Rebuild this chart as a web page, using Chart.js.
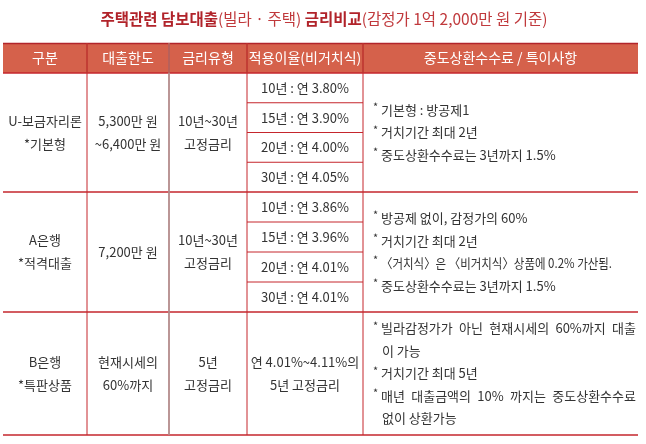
<!DOCTYPE html>
<html>
<head>
<meta charset="utf-8">
<script src="https://cdn.jsdelivr.net/npm/chart.js@4.4.1/dist/chart.umd.min.js"></script>
<style>
  html, body { margin: 0; padding: 0; background: #fff; }
  #loanTable { display: block; }
</style>
</head>
<body>
<canvas id="loanTable" width="646" height="444"></canvas>
<script>
// Table content
const TITLE_PARTS = [
    { text: "주택관련 담보대출", bold: true },
    { text: "(빌라 · 주택) ", bold: false },
    { text: "금리비교", bold: true },
    { text: "(감정가 1억 2,000만 원 기준)", bold: false }
];
const HEADERS = ["구분", "대출한도", "금리유형", "적용이율(비거치식)", "중도상환수수료 / 특이사항"];
const PRODUCTS = [["U-보금자리론", "*기본형"], ["A은행", "*적격대출"], ["B은행", "*특판상품"]];
const LIMITS = [["5,300만 원", "~6,400만 원"], ["7,200만 원"], ["현재시세의", "60%까지"]];
const RATE_TYPES = [["10년~30년", "고정금리"], ["10년~30년", "고정금리"], ["5년", "고정금리"]];
const RATES = [
    ["10년 : 연 3.80%", "15년 : 연 3.90%", "20년 : 연 4.00%", "30년 : 연 4.05%"],
    ["10년 : 연 3.86%", "15년 : 연 3.96%", "20년 : 연 4.01%", "30년 : 연 4.01%"],
    [["연 4.01%~4.11%의", "5년 고정금리"]]
];
const NOTES = [
    [["기본형 : 방공제1"], ["거치기간 최대 2년"], ["중도상환수수료는 3년까지 1.5%"]],
    [["방공제 없이, 감정가의 60%"], ["거치기간 최대 2년"], ["〈거치식〉은 〈비거치식〉상품에 0.2% 가산됨."], ["중도상환수수료는 3년까지 1.5%"]],
    [["빌라감정가가 아닌 현재시세의 60%까지 대출", "이 가능"], ["거치기간 최대 5년"], ["매년 대출금액의 10% 까지는 중도상환수수료", "없이 상환가능"]]
];

// layout (in scale units = page pixels)
const COL_EDGES = [3, 87, 169, 247, 363, 638];
const HEADER_TOP = 43, HEADER_BOTTOM = 73;
const ROW_EDGES = [73, 192, 312, 435];
const FONT = '"Noto Sans CJK KR", "Noto Sans", sans-serif';
const RED = "#c5262d";

function justifyText(ctx, str, x, y, width) {
    const words = str.split(" ");
    if (words.length < 2) { ctx.fillText(str, x, y); return; }
    const total = words.reduce((s, w) => s + ctx.measureText(w).width, 0);
    const gap = (width - total) / (words.length - 1);
    let cx = x;
    words.forEach(w => { ctx.fillText(w, cx, y); cx += ctx.measureText(w).width + gap; });
}

const tablePlugin = {
    id: "tablePlugin",
    afterDraw(chart) {
        const ctx = chart.ctx;
        const xs = chart.scales.x, ys = chart.scales.y;
        const X = v => xs.getPixelForValue(v);
        const Y = v => ys.getPixelForValue(v);
        const left = X(COL_EDGES[0]), right = X(COL_EDGES[COL_EDGES.length - 1]);
        ctx.save();

        // title
        let tw = 0;
        TITLE_PARTS.forEach(p => {
            ctx.font = (p.bold ? "bold " : "") + "15.5px " + FONT;
            tw += ctx.measureText(p.text).width;
        });
        let tx = X(324) - tw / 2;
        ctx.textBaseline = "middle";
        ctx.textAlign = "left";
        TITLE_PARTS.forEach(p => {
            ctx.font = (p.bold ? "bold " : "") + "15.5px " + FONT;
            ctx.fillStyle = p.bold ? "#b1232a" : "#c0393c";
            ctx.fillText(p.text, tx, Y(19));
            tx += ctx.measureText(p.text).width;
        });

        // header
        ctx.fillStyle = "#d5614b";
        ctx.fillRect(left, Y(HEADER_TOP), right - left, Y(HEADER_BOTTOM) - Y(HEADER_TOP));
        ctx.fillStyle = "#fff";
        ctx.font = "14px " + FONT;
        ctx.textAlign = "center";
        HEADERS.forEach((h, i) => {
            ctx.fillText(h, X((COL_EDGES[i] + COL_EDGES[i + 1]) / 2), Y((HEADER_TOP + HEADER_BOTTOM) / 2));
        });

        // lines
        ctx.strokeStyle = "#b2252b";
        ctx.lineWidth = 1.5;
        ctx.beginPath();
        ctx.moveTo(left, Y(HEADER_TOP) + 0.5); ctx.lineTo(right, Y(HEADER_TOP) + 0.5);
        ctx.stroke();
        ctx.strokeStyle = RED;
        ctx.lineWidth = 1.3;
        ROW_EDGES.forEach(r => {
            ctx.beginPath(); ctx.moveTo(left, Y(r)); ctx.lineTo(right, Y(r)); ctx.stroke();
        });
        for (let i = 1; i < COL_EDGES.length - 1; i++) {
            ctx.strokeStyle = i === 2 ? "#b48b8b" : RED;
            ctx.lineWidth = i === 2 ? 1.8 : 1;
            ctx.beginPath();
            ctx.moveTo(X(COL_EDGES[i]), Y(HEADER_TOP));
            ctx.lineTo(X(COL_EDGES[i]), Y(ROW_EDGES[ROW_EDGES.length - 1]));
            ctx.stroke();
        }
        // header column separators, darker
        ctx.strokeStyle = "#b83a30";
        ctx.lineWidth = 1;
        for (let i = 1; i < COL_EDGES.length - 1; i++) {
            ctx.beginPath();
            ctx.moveTo(X(COL_EDGES[i]), Y(HEADER_TOP));
            ctx.lineTo(X(COL_EDGES[i]), Y(HEADER_BOTTOM));
            ctx.stroke();
        }

        // body text
        const LH = 23;
        ctx.fillStyle = "#333";
        ctx.font = "13px " + FONT;
        const centered = (lines, col, top, bottom, lh) => {
            const cx = X((COL_EDGES[col] + COL_EDGES[col + 1]) / 2);
            const cy = (Y(top) + Y(bottom)) / 2;
            ctx.textAlign = "center";
            lines.forEach((l, k) => ctx.fillText(l, cx, cy + (k - (lines.length - 1) / 2) * lh));
        };
        for (let r = 0; r < PRODUCTS.length; r++) {
            const top = ROW_EDGES[r], bottom = ROW_EDGES[r + 1];
            centered(PRODUCTS[r], 0, top, bottom, LH);
            centered(LIMITS[r], 1, top, bottom, LH);
            centered(RATE_TYPES[r], 2, top, bottom, LH);

            // rates, with sub rows
            const n = RATES[r].length;
            const step = (bottom - top) / n;
            RATES[r].forEach((rate, k) => {
                const st = top + step * k, sb = st + step;
                centered(Array.isArray(rate) ? rate : [rate], 3, st, sb, LH);
                if (k > 0) {
                    ctx.strokeStyle = RED; ctx.lineWidth = 1;
                    ctx.beginPath(); ctx.moveTo(X(COL_EDGES[3]), Y(st)); ctx.lineTo(X(COL_EDGES[4]), Y(st)); ctx.stroke();
                }
            });

            // notes
            const lines = [];
            NOTES[r].forEach(note => note.forEach((l, k) => lines.push({ text: l, bullet: k === 0, last: k === note.length - 1 })));
            const nlh = 22.5;
            const cy = (Y(top) + Y(bottom)) / 2;
            const bx = X(COL_EDGES[4] + 10), txx = X(COL_EDGES[4] + 18);
            lines.forEach((l, k) => {
                const y = cy + (k - (lines.length - 1) / 2) * nlh;
                ctx.textAlign = "left";
                if (l.bullet) {
                    ctx.font = "11px " + FONT;
                    ctx.fillText("*", bx, y - 3);
                }
                ctx.font = "13px " + FONT;
                if (r === 2 && !l.last) justifyText(ctx, l.text, txx, y, X(636) - txx);
                else if (l.text.indexOf("〈") >= 0) ctx.fillText(l.text, txx, y, X(612) - txx);
                else ctx.fillText(l.text, txx + (l.bullet ? 0 : 1), y);
            });
        }
        ctx.restore();
    }
};

new Chart(document.getElementById("loanTable").getContext("2d"), {
    type: "scatter",
    data: { datasets: [{ data: [] }] },
    options: {
        responsive: false,
        animation: false,
        layout: { padding: 0 },
        plugins: { legend: { display: false }, tooltip: { enabled: false } },
        scales: {
            x: { type: "linear", min: 0, max: 646, display: false },
            y: { type: "linear", min: 0, max: 444, reverse: true, display: false }
        }
    },
    plugins: [tablePlugin]
});
</script>
</body>
</html>
